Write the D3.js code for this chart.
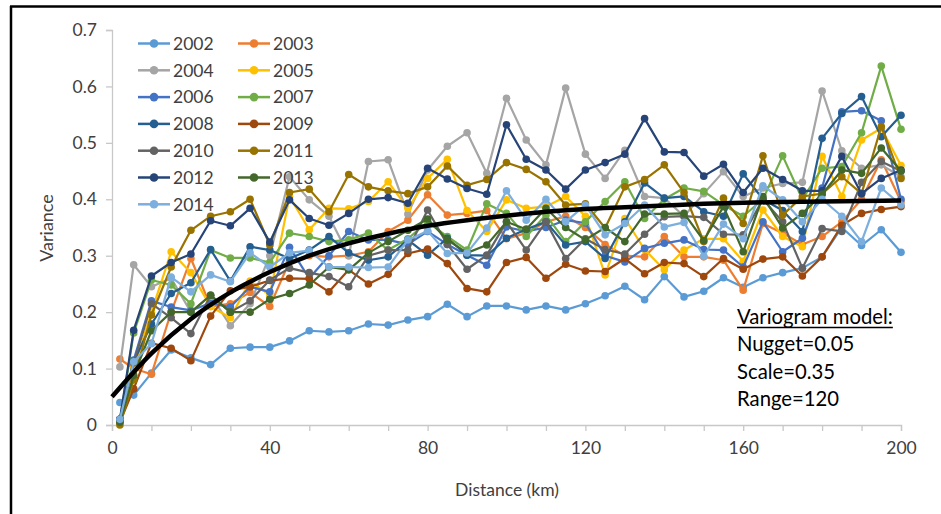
<!DOCTYPE html>
<html><head><meta charset="utf-8">
<script src="https://cdn.jsdelivr.net/npm/d3@7"></script>
<style>
html,body{margin:0;padding:0;background:#fff;}
svg{display:block;}
text{font-family:Lato,"Open Sans",sans-serif;fill:#404040;}
</style></head>
<body>
<svg id="chart" width="941" height="514"></svg>
<script>
const distances = [2, 5.5, 10, 15, 20, 25, 30, 35, 40, 45, 50, 55, 60, 65, 70, 75, 80, 85, 90, 95, 100, 105, 110, 115, 120, 125, 130, 135, 140, 145, 150, 155, 160, 165, 170, 175, 180, 185, 190, 195, 200];
const years = ["2002","2003","2004","2005","2006","2007","2008","2009","2010","2011","2012","2013","2014"];
const colors = ["#5B9BD5","#ED7D31","#A5A5A5","#FFC000","#4472C4","#70AD47","#255E91","#9E480E","#636363","#997300","#264478","#43682B","#7CAFDD"];

const v2002 = [0.040,0.053,0.092,0.133,0.119,0.107,0.136,0.138,0.138,0.149,0.167,0.165,0.167,0.179,0.177,0.186,0.192,0.214,0.192,0.211,0.211,0.204,0.211,0.204,0.215,0.229,0.246,0.222,0.263,0.227,0.237,0.261,0.244,0.261,0.270,0.278,0.298,0.350,0.318,0.346,0.306];
const v2003 = [0.117,0.100,0.090,0.200,0.295,0.210,0.215,0.235,0.210,0.290,0.300,0.298,0.300,0.307,0.343,0.363,0.408,0.372,0.375,0.380,0.330,0.340,0.360,0.370,0.350,0.320,0.300,0.298,0.334,0.298,0.298,0.292,0.239,0.357,0.340,0.320,0.334,0.360,0.400,0.470,0.396];
const v2004 = [0.103,0.284,0.245,0.260,0.200,0.230,0.176,0.215,0.300,0.440,0.399,0.370,0.300,0.467,0.470,0.374,0.452,0.494,0.518,0.446,0.579,0.505,0.461,0.597,0.480,0.437,0.487,0.405,0.402,0.370,0.410,0.449,0.405,0.420,0.428,0.430,0.592,0.486,0.455,0.461,0.440];
const v2005 = [0.010,0.100,0.200,0.307,0.270,0.210,0.190,0.255,0.230,0.405,0.346,0.384,0.383,0.396,0.431,0.384,0.437,0.471,0.380,0.343,0.399,0.384,0.387,0.405,0.370,0.266,0.366,0.311,0.275,0.310,0.330,0.330,0.290,0.381,0.334,0.316,0.476,0.405,0.505,0.526,0.460];
const v2006 = [0.010,0.115,0.220,0.209,0.203,0.216,0.209,0.245,0.236,0.315,0.260,0.300,0.343,0.328,0.328,0.320,0.343,0.320,0.301,0.283,0.351,0.343,0.350,0.363,0.358,0.300,0.289,0.313,0.322,0.328,0.311,0.310,0.280,0.360,0.307,0.331,0.420,0.555,0.557,0.539,0.400];
const v2007 = [0.008,0.163,0.257,0.248,0.215,0.310,0.296,0.296,0.288,0.340,0.334,0.325,0.328,0.340,0.310,0.330,0.360,0.334,0.310,0.392,0.375,0.334,0.372,0.325,0.360,0.396,0.431,0.366,0.400,0.420,0.414,0.390,0.370,0.400,0.477,0.400,0.455,0.458,0.518,0.636,0.524];
const v2008 = [0.010,0.112,0.179,0.233,0.252,0.311,0.255,0.316,0.310,0.295,0.310,0.334,0.305,0.292,0.298,0.328,0.301,0.331,0.301,0.300,0.331,0.347,0.360,0.319,0.325,0.295,0.360,0.429,0.402,0.405,0.378,0.370,0.445,0.400,0.380,0.343,0.508,0.552,0.582,0.511,0.549];
const v2009 = [0.005,0.064,0.145,0.136,0.114,0.193,0.238,0.245,0.256,0.260,0.259,0.236,0.275,0.250,0.267,0.304,0.312,0.286,0.242,0.236,0.288,0.297,0.260,0.285,0.273,0.272,0.295,0.268,0.288,0.286,0.263,0.295,0.276,0.294,0.298,0.264,0.298,0.354,0.375,0.382,0.387];
const v2010 = [0.010,0.110,0.215,0.190,0.162,0.230,0.200,0.220,0.257,0.278,0.270,0.263,0.245,0.300,0.310,0.310,0.381,0.320,0.276,0.301,0.360,0.310,0.360,0.295,0.330,0.311,0.303,0.338,0.369,0.370,0.368,0.338,0.337,0.400,0.360,0.278,0.348,0.343,0.430,0.467,0.450];
const v2011 = [0.000,0.080,0.195,0.280,0.345,0.370,0.378,0.400,0.319,0.412,0.418,0.378,0.444,0.422,0.415,0.410,0.422,0.459,0.425,0.435,0.465,0.453,0.431,0.390,0.392,0.349,0.422,0.435,0.461,0.412,0.325,0.402,0.357,0.477,0.372,0.405,0.410,0.440,0.410,0.529,0.437];
const v2012 = [0.010,0.168,0.264,0.288,0.303,0.362,0.353,0.384,0.324,0.399,0.366,0.354,0.375,0.400,0.403,0.393,0.455,0.436,0.419,0.409,0.532,0.471,0.452,0.418,0.452,0.465,0.480,0.543,0.484,0.483,0.441,0.462,0.412,0.455,0.435,0.415,0.415,0.476,0.410,0.437,0.452];
const v2013 = [0.005,0.088,0.167,0.200,0.200,0.230,0.200,0.200,0.223,0.233,0.248,0.280,0.275,0.305,0.325,0.345,0.365,0.328,0.305,0.319,0.360,0.347,0.384,0.350,0.328,0.350,0.325,0.374,0.374,0.375,0.327,0.387,0.307,0.405,0.349,0.375,0.409,0.452,0.446,0.491,0.450];
const v2014 = [0.010,0.112,0.144,0.262,0.236,0.266,0.254,0.305,0.280,0.305,0.309,0.280,0.280,0.279,0.280,0.328,0.344,0.304,0.305,0.349,0.415,0.363,0.400,0.360,0.390,0.337,0.357,0.390,0.351,0.359,0.299,0.356,0.330,0.424,0.399,0.360,0.400,0.370,0.325,0.420,0.390];

const modelDist = [0,10,20,30,40,50,60,70,80,90,100,110,120,130,140,150,160,170,180,190,200];
const modelVals = [0.050,0.127,0.188,0.235,0.271,0.300,0.322,0.339,0.353,0.363,0.371,0.378,0.383,0.386,0.389,0.392,0.394,0.395,0.396,0.397,0.398];

const yTicks = [0,0.1,0.2,0.3,0.4,0.5,0.6,0.7];
const xTicks = [0,10,20,30,40,50,60,70,80,90,100,110,120,130,140,150,160,170,180,190,200];
const xLabels = [0,40,80,120,160,200];
const annotation = ["Variogram model:","Nugget=0.05","Scale=0.35","Range=120"];

const seriesValues = [v2002,v2003,v2004,v2005,v2006,v2007,v2008,v2009,v2010,v2011,v2012,v2013,v2014];
const series = years.map((y,i)=>({name:y,color:colors[i],values:seriesValues[i]}));

const svg = d3.select("#chart");
const x = d3.scaleLinear().domain([0,200]).range([112,901]);
const y = d3.scaleLinear().domain([0,0.7]).range([425,30]);

// frame
svg.append("line").attr("x1",10).attr("x2",941).attr("y1",6.5).attr("y2",6.5).attr("stroke","#000").attr("stroke-width",2.5);
svg.append("line").attr("x1",11).attr("x2",11).attr("y1",6).attr("y2",514).attr("stroke","#000").attr("stroke-width",2.5);

// axes
const yAxis = d3.axisLeft(y).tickValues(yTicks).tickSize(6).tickPadding(9)
  .tickFormat(d=>d===0?"0":d3.format(".1f")(d));
const gy = svg.append("g").attr("transform","translate(112,0)").call(yAxis);
const xAxis = d3.axisBottom(x).tickValues(xTicks).tickSize(6).tickPadding(11)
  .tickFormat(d=>xLabels.includes(d)?String(d):"");
const gx = svg.append("g").attr("transform","translate(0,425)").call(xAxis);
[gx,gy].forEach(g=>{
  g.select(".domain").attr("stroke","#C8C8C8").attr("stroke-width",1.3);
  g.selectAll(".tick line").attr("stroke","#C8C8C8").attr("stroke-width",1.3);
  g.selectAll("text").attr("font-family","Lato").attr("font-size",17.5).attr("fill","#404040");
});

svg.append("text").attr("x",507).attr("y",496).attr("text-anchor","middle")
  .attr("font-size",17.5).text("Distance (km)");
svg.append("text").attr("transform","translate(53,228) rotate(-90)").attr("text-anchor","middle")
  .attr("font-size",18).text("Variance");

// series
const line = d3.line().x((d,i)=>x(distances[i])).y(d=>y(d));
const gs = svg.append("g");
series.forEach(s=>{
  const g = gs.append("g");
  g.append("path").datum(s.values).attr("d",line).attr("fill","none")
    .attr("stroke",s.color).attr("stroke-width",2.2).attr("stroke-linejoin","round");
  g.selectAll("circle").data(s.values).join("circle")
    .attr("cx",(d,i)=>x(distances[i])).attr("cy",d=>y(d)).attr("r",3.8).attr("fill",s.color);
});

// model curve
const mline = d3.line().x((d,i)=>x(modelDist[i])).y(d=>y(d)).curve(d3.curveMonotoneX);
svg.append("path").datum(modelVals).attr("d",mline).attr("fill","none")
  .attr("stroke","#000").attr("stroke-width",4.5);

// legend
const lg = svg.append("g");
series.forEach((s,i)=>{
  const col = i%2, row = Math.floor(i/2);
  const lx = col===0?138:238, ly = 43.5 + row*26.8;
  lg.append("line").attr("x1",lx).attr("x2",lx+32).attr("y1",ly).attr("y2",ly)
    .attr("stroke",s.color).attr("stroke-width",2.5);
  lg.append("circle").attr("cx",lx+16).attr("cy",ly).attr("r",4.3).attr("fill",s.color);
  lg.append("text").attr("x",lx+35).attr("y",ly).attr("dy","0.36em")
    .attr("font-size",17.5).text(s.name);
});

// annotation
const ag = svg.append("g").attr("transform","translate(737,0)");
annotation.forEach((t,i)=>{
  ag.append("text").attr("x",0).attr("y",324+i*27.4).attr("font-size",20.3)
    .style("fill","#000").text(t);
});
const firstW = ag.select("text").node().getComputedTextLength();
ag.append("line").attr("x1",0).attr("x2",firstW).attr("y1",327.5).attr("y2",327.5)
  .attr("stroke","#000").attr("stroke-width",1.3);
</script>
</body></html>
